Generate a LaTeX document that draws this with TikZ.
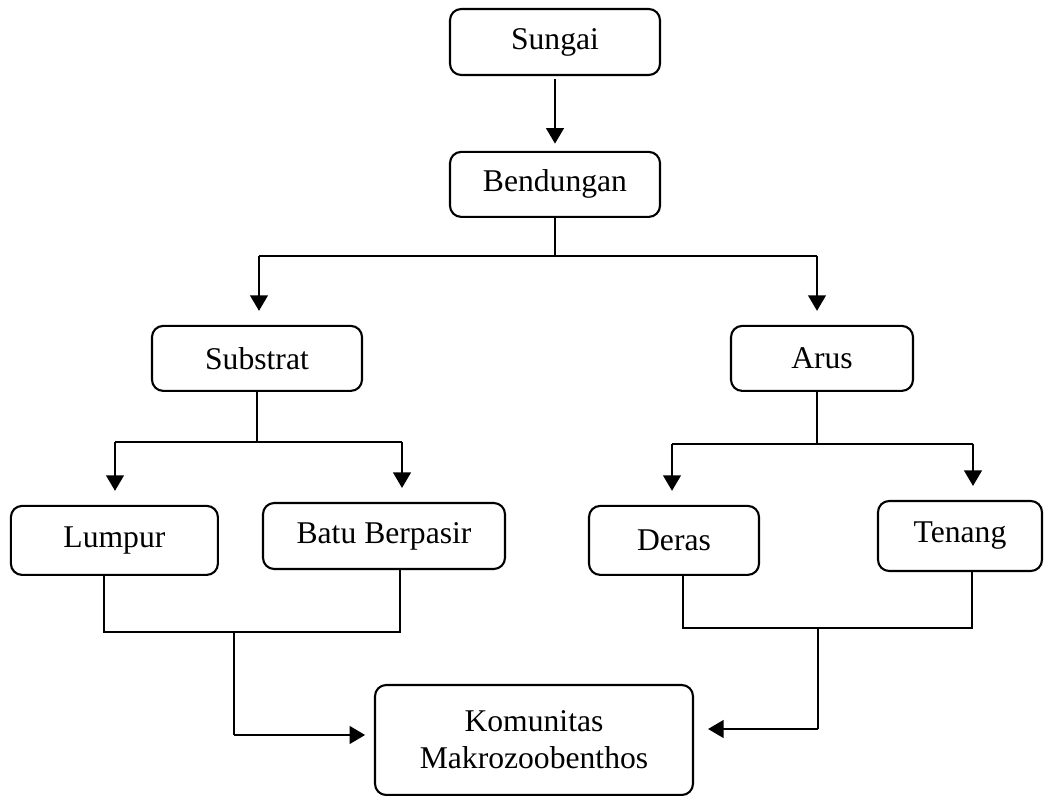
\documentclass[tikz,border=0pt]{standalone}
\usepackage{fontspec}
\setmainfont{Liberation Serif}
\usetikzlibrary{arrows.meta}

\begin{document}
\begin{tikzpicture}[
    box/.style={draw, line width=1.5pt, rounded corners=0.28cm, inner sep=0pt, align=center,
        font=\fontsize{22.5}{26.5}\selectfont},
    link/.style={line width=1.5pt},
    arr/.style={line width=1.6pt, -{Triangle[length=11pt, width=12.5pt]}, shorten >=0.35cm}
]
    \useasboundingbox (0,0) rectangle (26.15,-19.9);

    % Top of the tree
    \node[box, minimum width=5.25cm, minimum height=1.65cm] (sungai) at (13.875,-1.05) {Sungai};
    \node[box, minimum width=5.25cm, minimum height=1.625cm] (bendungan) at (13.875,-4.61) {Bendungan};
    \draw[arr, shorten >=0.18cm, shorten <=0.08cm] (sungai) -- (bendungan);

    % Second level
    \node[box, minimum width=5.25cm, minimum height=1.625cm] (substrat) at (6.425,-8.96) {Substrat};
    \node[box, minimum width=4.55cm, minimum height=1.625cm] (arus) at (20.55,-8.96) {Arus};
    \coordinate (b1) at (6.475,-6.4);
    \coordinate (b2) at (20.425,-6.4);
    \draw[link] (bendungan.south) -- (bendungan.south |- b1);
    \draw[link] (b1) -- (b2);
    \draw[arr] (b1) -- (b1 |- substrat.north);
    \draw[arr] (b2) -- (b2 |- arus.north);

    % Third level
    \node[box, minimum width=5.175cm, minimum height=1.725cm] (lumpur) at (2.86,-13.51) {Lumpur};
    \node[box, minimum width=6.05cm, minimum height=1.65cm] (batu) at (9.6,-13.4) {Batu Berpasir};
    \node[box, minimum width=4.25cm, minimum height=1.725cm] (deras) at (16.85,-13.51) {Deras};
    \node[box, minimum width=4.1cm, minimum height=1.75cm] (tenang) at (24.0,-13.4) {Tenang};

    \coordinate (s1) at (2.875,-11.05);
    \coordinate (s2) at (10.05,-11.05);
    \draw[link] (substrat.south) -- (substrat.south |- s1);
    \draw[link] (s1) -- (s2);
    \draw[arr] (s1) -- (s1 |- lumpur.north);
    \draw[arr] (s2) -- (s2 |- batu.north);

    \coordinate (a1) at (16.8,-11.1);
    \coordinate (a2) at (24.325,-11.1);
    \draw[link] (arus.south -| 20.425,0) -- (20.425,-11.1);
    \draw[link] (a1) -- (a2);
    \draw[arr] (a1) -- (a1 |- deras.north);
    \draw[arr] (a2) -- (a2 |- tenang.north);

    % Bottom
    \node[box, minimum width=7.95cm, minimum height=2.75cm] (komunitas) at (13.35,-18.5)
        {Komunitas\\Makrozoobenthos};

    \coordinate (l1) at (2.6,-15.8);
    \coordinate (l2) at (10.0,-15.8);
    \coordinate (k1) at (5.85,-18.375);
    \draw[link] (lumpur.south -| l1) -- (l1) -- (l2) -- (batu.south -| l2);
    \draw[link] (k1 |- l1) -- (k1);
    \draw[arr, shorten >=0.22cm] (k1) -- (k1 -| komunitas.west);

    \coordinate (r1) at (17.075,-15.7);
    \coordinate (r2) at (24.3,-15.7);
    \coordinate (k2) at (20.45,-18.225);
    \draw[link] (deras.south -| r1) -- (r1) -- (r2) -- (tenang.south -| r2);
    \draw[link] (k2 |- r1) -- (k2);
    \draw[arr] (k2) -- (k2 -| komunitas.east);
\end{tikzpicture}
\end{document}
